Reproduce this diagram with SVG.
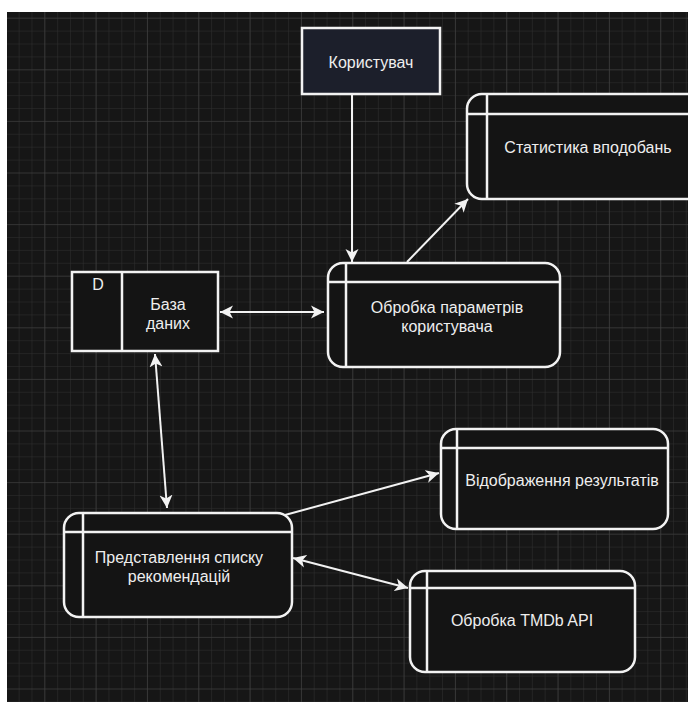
<svg xmlns="http://www.w3.org/2000/svg" width="688" height="702" viewBox="0 0 688 702">
  <style>
    .node { fill: #141414; stroke: #f2f2f2; stroke-width: 2.5; }
    .sep { stroke: #f2f2f2; stroke-width: 2.5; fill: none; }
    .lbl { font-family: "Liberation Sans", Arial, sans-serif; font-size: 16px; fill: #eeeeee; text-anchor: middle; }
    .edge { stroke: #f2f2f2; stroke-width: 2; fill: none; }
  </style>
  <defs>
    <pattern id="minor" patternUnits="userSpaceOnUse" x="44.3" y="69.3" width="12.83" height="12.9">
      <path d="M0,0 V12.9 M0,0 H12.83" stroke="#303030" stroke-width="1" fill="none"/>
    </pattern>
    <pattern id="major" patternUnits="userSpaceOnUse" x="44.3" y="69.3" width="51.33" height="51.6">
      <path d="M0,0 V51.6 M0,0 H51.33" stroke="#424242" stroke-width="1.2" fill="none"/>
    </pattern>
    <marker id="arr" viewBox="0 0 14 14" markerWidth="14" markerHeight="14" refX="13" refY="7" orient="auto-start-reverse" markerUnits="userSpaceOnUse">
      <path d="M0,0.5 L13,7 L0,13.5 L3.5,7 z" fill="#f2f2f2"/>
    </marker>
  </defs>

  <rect x="0" y="0" width="688" height="702" fill="#ffffff"/>
  <rect x="7" y="12" width="681" height="690" fill="#161616"/>
  <rect x="7" y="12" width="681" height="690" fill="url(#minor)"/>
  <rect x="7" y="12" width="681" height="690" fill="url(#major)"/>

  <g id="connectors">
    <line class="edge" x1="352" y1="94" x2="352" y2="262" marker-end="url(#arr)"/>
    <line class="edge" x1="407" y1="262" x2="468" y2="199" marker-end="url(#arr)"/>
    <line class="edge" x1="220" y1="312" x2="324" y2="312" marker-start="url(#arr)" marker-end="url(#arr)"/>
    <line class="edge" x1="155" y1="354" x2="167" y2="508" marker-start="url(#arr)" marker-end="url(#arr)"/>
    <line class="edge" x1="285" y1="515" x2="439" y2="473" marker-end="url(#arr)"/>
    <line class="edge" x1="293" y1="558" x2="408" y2="588" marker-start="url(#arr)" marker-end="url(#arr)"/>
  </g>

  <g id="korystuvach">
    <rect x="302" y="28" width="138" height="66" fill="#1c1f2b" stroke="#f2f2f2" stroke-width="2.5"/>
    <text class="lbl" x="371" y="68">Користувач</text>
  </g>

  <g id="statystyka">
    <rect class="node" x="467" y="94" width="240" height="105" rx="15" ry="15"/>
    <line class="sep" x1="487" y1="94" x2="487" y2="199"/>
    <line class="sep" x1="467" y1="114" x2="707" y2="114"/>
    <text class="lbl" x="588" y="153">Статистика вподобань</text>
  </g>

  <g id="baza">
    <rect class="node" x="72" y="272" width="146" height="79"/>
    <line class="sep" x1="122" y1="272" x2="122" y2="351"/>
    <text class="lbl" x="98" y="290">D</text>
    <text class="lbl" x="168" y="310">База</text>
    <text class="lbl" x="168" y="329">даних</text>
  </g>

  <g id="obrobka-param">
    <rect class="node" x="328" y="263" width="232" height="104" rx="15" ry="15"/>
    <line class="sep" x1="346" y1="263" x2="346" y2="367"/>
    <line class="sep" x1="328" y1="282" x2="560" y2="282"/>
    <text class="lbl" x="447" y="313">Обробка параметрів</text>
    <text class="lbl" x="447" y="332">користувача</text>
  </g>

  <g id="vidobrazhennya">
    <rect class="node" x="441" y="429" width="227" height="100" rx="15" ry="15"/>
    <line class="sep" x1="457" y1="429" x2="457" y2="529"/>
    <line class="sep" x1="441" y1="448" x2="668" y2="448"/>
    <text class="lbl" x="562" y="486">Відображення результатів</text>
  </g>

  <g id="predstavlennya">
    <rect class="node" x="64" y="513" width="228" height="104" rx="15" ry="15"/>
    <line class="sep" x1="83" y1="513" x2="83" y2="617"/>
    <line class="sep" x1="64" y1="532" x2="292" y2="532"/>
    <text class="lbl" x="179" y="563">Представлення списку</text>
    <text class="lbl" x="179" y="582">рекомендацій</text>
  </g>

  <g id="tmdb">
    <rect class="node" x="410" y="571" width="225" height="101" rx="15" ry="15"/>
    <line class="sep" x1="427" y1="571" x2="427" y2="672"/>
    <line class="sep" x1="410" y1="588" x2="635" y2="588"/>
    <text class="lbl" x="522" y="626">Обробка TMDb API</text>
  </g>
</svg>
